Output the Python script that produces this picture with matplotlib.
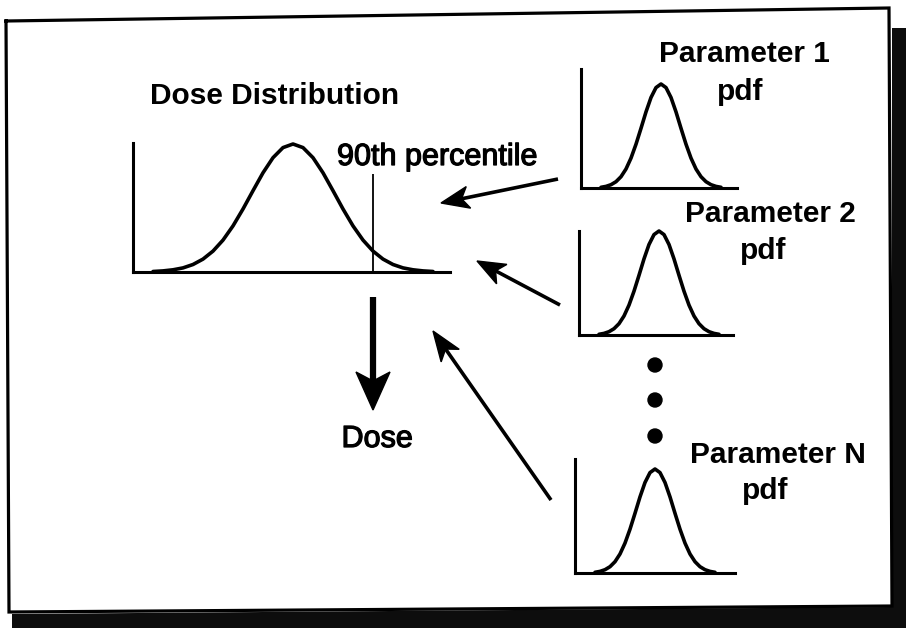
import numpy as np
import matplotlib.pyplot as plt
import matplotlib.patheffects as pe
from matplotlib.patches import Polygon, Circle

plt.rcParams['font.family'] = ['Liberation Sans', 'DejaVu Sans']

W, H = 906, 628

# dose distribution curve (pixels from the axis corner)
dose_x = [20, 30, 40, 50, 60, 70, 80, 90, 100, 110, 120, 130, 140, 150, 160,
          170, 180, 190, 200, 210, 220, 230, 240, 250, 260, 270, 280, 290, 300]
dose_y = [0.5, 1.1, 2.2, 4.1, 7.5, 12.9, 20.9, 31.9, 46.1, 63.0, 81.3, 99.2, 114.3, 124.4, 128,
          124.4, 114.3, 99.2, 81.3, 63.0, 46.1, 31.9, 20.9, 12.9, 7.5, 4.1, 2.2, 1.1, 0.5]
pct90_x = 240
pct90_top = 98

# parameter pdf curve, same shape in the three small plots
pdf_x = [20, 25, 30, 35, 40, 45, 50, 55, 60, 65, 70, 75, 80,
         85, 90, 95, 100, 105, 110, 115, 120, 125, 130, 135, 140]
pdf_y = [0.7, 1.6, 3.3, 6.3, 11.3, 19.0, 29.9, 43.8, 59.7, 76.1, 90.5, 100.4, 104,
         100.4, 90.5, 76.1, 59.7, 43.8, 29.9, 19.0, 11.3, 6.3, 3.3, 1.6, 0.7]

param_labels = ['Parameter 1', 'Parameter 2', 'Parameter N']

fig = plt.figure(figsize=(W / 100, H / 100), dpi=100)
ax = fig.add_axes([0, 0, 1, 1])
ax.set_xlim(0, W)
ax.set_ylim(H, 0)
ax.axis('off')

# frame and the dark scan shadow
shadow = Polygon([(892, 28), (906, 28), (906, 628), (12, 628), (12, 614), (892, 607)],
                 closed=True, facecolor='#0d0d0d', edgecolor='none')
ax.add_patch(shadow)
fx = [6, 889, 892, 9, 6]
fy = [21, 8, 606, 612, 21]
ax.plot(fx, fy, color='black', lw=2.3, solid_joinstyle='miter')

ink = [pe.withStroke(linewidth=0.9, foreground='black')]


def small_axes(left, top, right, bottom):
    a = fig.add_axes([left / W, 1 - bottom / H, (right - left) / W, (bottom - top) / H])
    a.set_xlim(0, right - left)
    a.set_ylim(0, bottom - top)
    a.patch.set_alpha(0)
    for s in ['top', 'right']:
        a.spines[s].set_visible(False)
    for s in ['left', 'bottom']:
        a.spines[s].set_linewidth(2.2)
    a.set_xticks([])
    a.set_yticks([])
    return a


def arrow(tail, tip, lw, hl, hw, notch):
    tail = np.array(tail, float)
    tip = np.array(tip, float)
    u = (tip - tail) / np.hypot(*(tip - tail))
    p = np.array([-u[1], u[0]])
    back = tip - hl * u
    nb = tip - notch * u
    ax.plot([tail[0], nb[0]], [tail[1], nb[1]], color='black', lw=lw, solid_capstyle='butt')
    ax.add_patch(Polygon([tip, back + hw * p, nb, back - hw * p], closed=True, color='black'))


# dose distribution
dax = small_axes(133, 143, 450, 272)
dax.plot(dose_x, dose_y, color='black', lw=2.6, solid_capstyle='round', clip_on=False)
dax.vlines(pct90_x, 0, pct90_top, color='black', lw=1.3)

ax.text(275, 104, 'Dose Distribution', fontsize=21.5, fontweight='bold', ha='center', va='baseline')
ax.text(337, 165, '90th percentile', fontsize=22, ha='left', va='baseline', path_effects=ink)

# parameter pdfs
boxes = [(581, 69, 737, 188), (579, 231, 733, 335), (575, 459, 735, 573)]
for b in boxes:
    pax = small_axes(*b)
    pax.plot(pdf_x, pdf_y, color='black', lw=2.6, solid_capstyle='round', clip_on=False)

label_pos = [(744, 62), (770, 222), (778, 463)]
pdf_pos = [(740, 100), (763, 259), (765, 499)]
for lab, (x, y), (px, py) in zip(param_labels, label_pos, pdf_pos):
    ax.text(x, y, lab, fontsize=21.5, fontweight='bold', ha='center', va='baseline')
    ax.text(px, py, 'pdf', fontsize=21.5, fontweight='bold', ha='center', va='baseline')

for y in [365, 400, 436]:
    ax.add_patch(Circle((655, y), 7, color='black'))

# arrows into the dose distribution
arrow((558, 179), (441, 203), 2.6, 28, 11, 21)
arrow((560, 305), (477, 261), 2.6, 28, 11, 21)
arrow((551, 500), (433, 331), 2.6, 30, 11, 22)

# dose arrow
arrow((373, 297), (373, 410), 4.5, 38, 17, 29)
ax.text(377, 447, 'Dose', fontsize=22, ha='center', va='baseline', path_effects=ink)

fig.savefig('out.png', dpi=100)
